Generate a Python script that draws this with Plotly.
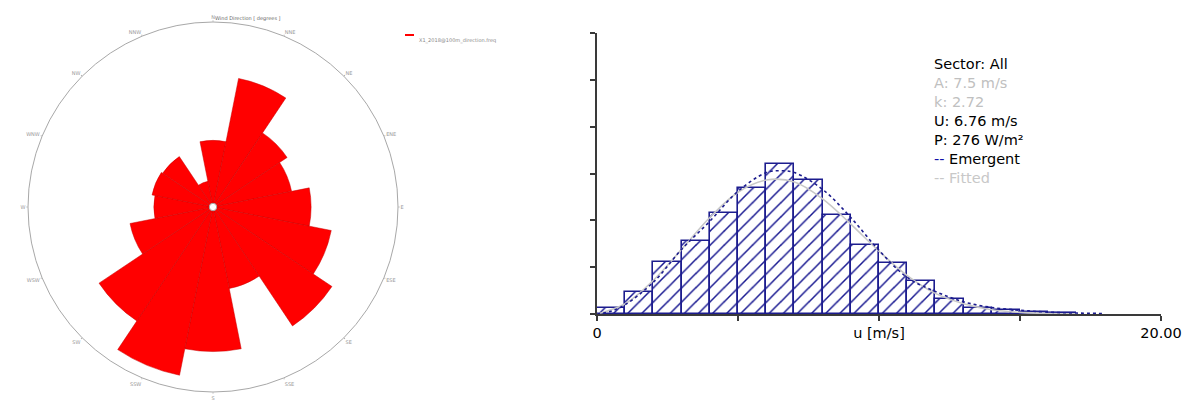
import plotly.graph_objects as go

# ---- wind rose: frequency per direction sector (%) ----
directions = ["N", "NNE", "NE", "ENE", "E", "ESE", "SE", "SSE",
              "S", "SSW", "SW", "WSW", "W", "WNW", "NW", "NNW"]
dir_freq = [4.2, 8.5, 5.7, 5.1, 6.3, 7.8, 9.3, 5.3,
            9.4, 11.2, 8.9, 5.4, 3.7, 3.9, 3.8, 1.5]
rose_title = "Wind Direction [ degrees ]"
rose_series = "X1_2018@100m_direction.freq"

# ---- speed distribution: 1 m/s bins (%) ----
speed_bins = [0.5, 1.5, 2.5, 3.5, 4.5, 5.5, 6.5, 7.5, 8.5,
              9.5, 10.5, 11.5, 12.5, 13.5, 14.5, 15.5, 16.5]
speed_freq = [0.6, 2.4, 5.55, 7.8, 10.8, 13.5, 16.0, 14.3, 10.6,
              7.4, 5.4, 3.5, 1.55, 0.66, 0.45, 0.25, 0.1]

# emergent distribution curve
emergent_u = [0, 0.5, 1, 2, 3, 4, 5, 6, 6.5, 7, 8, 9, 10, 11, 12, 13, 14, 15, 16, 17, 18]
emergent_p = [0.0, 0.3, 1.0, 3.4, 6.9, 9.9, 13.1, 15.1, 15.3, 15.1, 13.3, 10.3,
              6.8, 3.9, 2.4, 1.3, 0.7, 0.4, 0.2, 0.1, 0.05]

# fitted Weibull curve
fitted_u = [0, 1, 2, 3, 4, 5, 6, 7, 8, 9, 10, 11, 12, 13, 14, 15, 16, 17]
fitted_p = [0.0, 1.1, 3.6, 6.9, 10.3, 13.0, 14.3, 14.1, 12.3, 9.6, 6.7,
            4.1, 2.2, 1.1, 0.45, 0.17, 0.05, 0.01]

x_ticks = [0, 5, 10, 15, 20]
x_ticktext = ["0", "", "u [m/s]", "", "20.00"]
y_ticks = [0, 5, 10, 15, 20, 25, 30]

NAVY = "#1c1c8e"
DASH_BLUE = "#1010a8"
W, H = 1190, 401

fig = go.Figure()

fig.add_trace(go.Barpolar(
    r=dir_freq, theta=directions,
    marker=dict(color="#ff0000", line=dict(color="#c80000", width=0.5)),
    showlegend=False,
))

fig.add_trace(go.Bar(
    x=speed_bins, y=speed_freq, width=1.0,
    marker=dict(color="white", line=dict(color=NAVY, width=1.6),
                pattern=dict(shape="/", size=10, solidity=0.15, fgopacity=1,
                             fgcolor="#161690", bgcolor="white")),
    xaxis="x", yaxis="y", showlegend=False,
))

fig.add_trace(go.Scatter(
    x=fitted_u, y=fitted_p, mode="lines", line=dict(color="#c8c8c8", width=1.6, shape="spline"),
    xaxis="x", yaxis="y", showlegend=False,
))
fig.add_trace(go.Scatter(
    x=emergent_u, y=emergent_p, mode="lines",
    line=dict(color=NAVY, width=1.6, dash="dot", shape="spline"),
    xaxis="x", yaxis="y", showlegend=False,
))

cx, cy, rad = 213, 207, 185
fig.update_layout(
    width=W, height=H, autosize=False,
    margin=dict(l=0, r=0, t=0, b=0, autoexpand=False),
    paper_bgcolor="white", plot_bgcolor="white",
    font=dict(family="DejaVu Sans", color="#000"),
    polar=dict(
        domain=dict(x=[(cx - rad) / W, (cx + rad) / W], y=[(H - cy - rad) / H, (H - cy + rad) / H]),
        bgcolor="white",
        hole=0.02,
        bargap=0,
        angularaxis=dict(rotation=90, direction="clockwise", type="category",
                         showgrid=False, showline=True, linecolor="#a8a8a8", linewidth=1,
                         ticks="outside", ticklen=1, tickcolor="#a8a8a8",
                         tickfont=dict(size=5, color="#999")),
        radialaxis=dict(visible=False, range=[0, 12.1]),
    ),
    xaxis=dict(domain=[597 / W, 1161 / W], range=[0, 20], tickvals=x_ticks, ticktext=x_ticktext,
               showgrid=False, zeroline=False, showline=True, linecolor="#3a3a3a", linewidth=2,
               ticks="outside", ticklen=5, tickcolor="#3a3a3a", tickwidth=1.5, automargin=False,
               tickfont=dict(size=14.5, family="DejaVu Sans", color="#000"), anchor="y"),
    yaxis=dict(domain=[(H - 314) / H, (H - 33) / H], range=[0, 30], tickvals=y_ticks,
               showticklabels=False, showgrid=False, zeroline=False, showline=True,
               linecolor="#3a3a3a", linewidth=2, ticks="outside", ticklen=5, automargin=False,
               tickcolor="#3a3a3a", tickwidth=1.5, anchor="x"),
    bargap=0,
)

# rose title and series key
fig.add_annotation(x=cx / W, y=1 - 13 / H, xref="paper", yref="paper", text=rose_title,
                   showarrow=False, font=dict(size=5, color="#666"))
fig.add_shape(type="line", xref="paper", yref="paper",
              x0=405 / W, x1=414 / W, y0=1 - 35 / H, y1=1 - 35 / H,
              line=dict(color="#ff0000", width=2))
fig.add_annotation(x=417 / W, y=1 - 35 / H, xref="paper", yref="paper", text=rose_series,
                   xanchor="left", showarrow=False, font=dict(size=5, color="#888"))

# statistics block
stats = [
    ("Sector: All", "#000000", 64),
    ("A: 7.5 m/s", "#c0c0c0", 83),
    ("k: 2.72", "#c0c0c0", 102),
    ("U: 6.76 m/s", "#000000", 121),
    ("P: 276 W/m²", "#000000", 140),
    (f'<span style="color:{DASH_BLUE}">--</span> Emergent', "#000000", 159),
    ("-- Fitted", "#c8c8c8", 178),
]
for text, color, ypx in stats:
    fig.add_annotation(x=932 / W, y=1 - ypx / H, xref="paper", yref="paper", text=text,
                       xanchor="left", yanchor="middle", showarrow=False,
                       font=dict(size=14.5, family="DejaVu Sans", color=color))

fig.write_html("out.html")
